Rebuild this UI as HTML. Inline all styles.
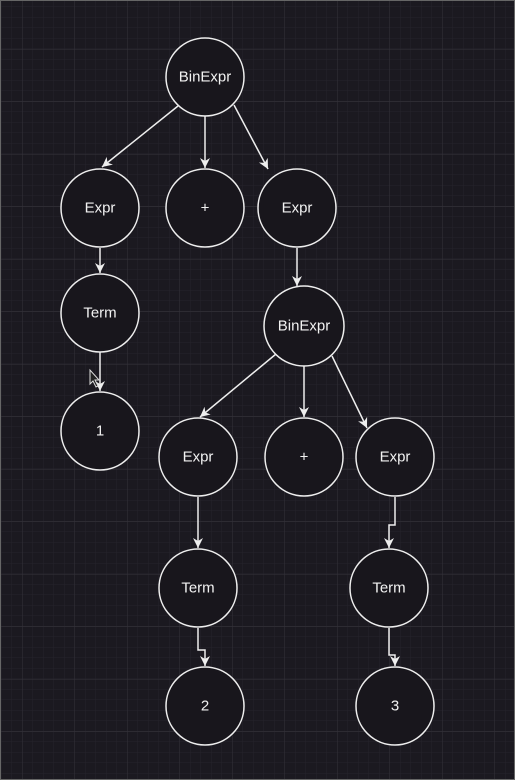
<!DOCTYPE html>
<html><head><style>
html,body{margin:0;padding:0;background:#1b1920;}
svg{display:block}
text{font-family:"Liberation Sans",sans-serif;font-size:15px;fill:#f2f2f2;text-anchor:middle;dominant-baseline:central}
</style></head><body>
<svg width="515" height="780" viewBox="0 0 515 780" xmlns="http://www.w3.org/2000/svg">
<defs>
<pattern id="minor" x="1.5" y="7" width="10.5" height="10.5" patternUnits="userSpaceOnUse">
<path d="M10.5 0V10.5M0 10.5H10.5" stroke="#26242b" stroke-width="1" fill="none"/>
</pattern>
<pattern id="major" x="22" y="49" width="52.5" height="52.5" patternUnits="userSpaceOnUse">
<path d="M0 0V52.5M0 0H52.5" stroke="#34323a" stroke-width="1" fill="none"/>
</pattern>
<marker id="a" markerWidth="12" markerHeight="12" refX="10" refY="5" orient="auto" markerUnits="userSpaceOnUse">
<path d="M0 0L10 5L0 10L3 5Z" fill="#eee"/>
</marker>
</defs>
<rect width="515" height="780" fill="#1b1920"/>
<rect width="515" height="780" fill="url(#minor)"/>
<rect width="515" height="780" fill="url(#major)"/>
<rect x="0.5" y="0.5" width="514" height="779" fill="none" stroke="#666" stroke-width="1"/>
<g stroke="#eee" stroke-width="1.5" fill="none" marker-end="url(#a)">
<path d="M178 106L102 167"/>
<path d="M205 116V168"/>
<path d="M234 105L268 169"/>
<path d="M100 248V273"/>
<path d="M100 352V391"/>
<path d="M297 248V286"/>
<path d="M276 354L200 417"/>
<path d="M304 366V417"/>
<path d="M332 356L367 428"/>
<path d="M198 497V548"/>
<path d="M395 497V525H389V548"/>
<path d="M198 628V650H205V666"/>
<path d="M389 628V655H395V666"/>
</g>
<path d="M90 370v14l3-3 3 6 2-1-3-6h4z" fill="#222" stroke="#ddd" stroke-width="1"/>
<g stroke="#eee" stroke-width="1.5" fill="#18161c">
<circle cx="205" cy="77" r="39"/>
<circle cx="100" cy="208" r="39"/>
<circle cx="205" cy="208" r="39"/>
<circle cx="297" cy="208" r="39"/>
<circle cx="100" cy="313" r="39"/>
<circle cx="100" cy="431" r="39"/>
<circle cx="304" cy="326" r="40"/>
<circle cx="198" cy="457" r="39"/>
<circle cx="304" cy="457" r="39"/>
<circle cx="395" cy="457" r="39"/>
<circle cx="198" cy="588" r="39"/>
<circle cx="389" cy="588" r="39"/>
<circle cx="205" cy="706" r="39"/>
<circle cx="395" cy="706" r="39"/>
</g>
<text x="205" y="77">BinExpr</text>
<text x="100" y="208">Expr</text>
<text x="205" y="208">+</text>
<text x="297" y="208">Expr</text>
<text x="100" y="313">Term</text>
<text x="100" y="431">1</text>
<text x="304" y="326">BinExpr</text>
<text x="198" y="457">Expr</text>
<text x="304" y="457">+</text>
<text x="395" y="457">Expr</text>
<text x="198" y="588">Term</text>
<text x="389" y="588">Term</text>
<text x="205" y="706">2</text>
<text x="395" y="706">3</text>
</svg>
</body></html>
